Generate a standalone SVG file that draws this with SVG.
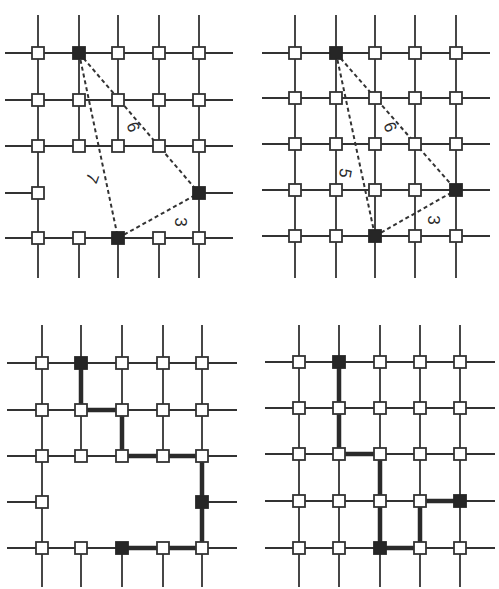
<svg xmlns="http://www.w3.org/2000/svg" width="499" height="589" viewBox="0 0 499 589">
<style>
.g{stroke:#333;stroke-width:1.8;fill:none;stroke-linecap:butt}
.d{stroke:#333;stroke-width:2;fill:none;stroke-dasharray:4 3}
.h{stroke:#2a2a2a;stroke-width:4.5;fill:none;stroke-linejoin:miter;stroke-linecap:square}
.n{fill:#fff;stroke:#333;stroke-width:1.8}
.b{fill:#262626;stroke:#262626;stroke-width:1.8}
.t{font-family:"Liberation Sans",Arial,sans-serif;font-size:17px;fill:#2a2a2a;text-anchor:middle;dominant-baseline:central}
</style>
<rect width="499" height="589" fill="#fff"/>
<g id="connectors">
<path class="g" d="M38 15V278M79 15V146M79 238V278M118 15V146M118 238V278M159 15V146M159 238V278M199 15V278"/>
<path class="g" d="M5 53H233M5 100H233M5 146H233M5 193H38M199 193H233M5 238H233"/>
<path class="d" d="M79 53L199 193M79 53L118 238M118 238L199 193"/>
<path class="g" d="M295 15V278M336 15V278M375 15V278M415 15V278M456 15V278"/>
<path class="g" d="M262 53H490M262 98H490M262 144H490M262 190H490M262 236H490"/>
<path class="d" d="M336 53L456 190M336 53L375 236M375 236L456 190"/>
<path class="g" d="M42 325V587M81 325V456M81 548V587M122 325V456M122 548V587M163 325V456M163 548V587M202 325V587"/>
<path class="g" d="M7 363H237M7 410H237M7 456H237M7 502H42M202 502H237M7 548H237"/>
<path class="h" d="M81 363V410H122V456H202V548H122"/>
<path class="g" d="M299 325V587M339 325V587M380 325V587M420 325V587M460 325V587"/>
<path class="g" d="M265 362H495M265 408H495M265 454H495M265 501H495M265 548H495"/>
<path class="h" d="M339 362V454H380V548H420V501H460"/>
</g>
<g id="labels">
<text class="t" transform="translate(133 127) rotate(70)">6</text>
<text class="t" transform="translate(92 178) rotate(110)">7</text>
<text class="t" transform="translate(180 222) rotate(90)">3</text>
<text class="t" transform="translate(390 127) rotate(70)">6</text>
<text class="t" transform="translate(345 173) rotate(100)">5</text>
<text class="t" transform="translate(433 220) rotate(90)">3</text>
</g>
<g id="a00"><rect class="n" x="32" y="47" width="12" height="12"/></g>
<g id="a01"><rect class="b" x="73" y="47" width="12" height="12"/></g>
<g id="a02"><rect class="n" x="112" y="47" width="12" height="12"/></g>
<g id="a03"><rect class="n" x="153" y="47" width="12" height="12"/></g>
<g id="a04"><rect class="n" x="193" y="47" width="12" height="12"/></g>
<g id="a10"><rect class="n" x="32" y="94" width="12" height="12"/></g>
<g id="a11"><rect class="n" x="73" y="94" width="12" height="12"/></g>
<g id="a12"><rect class="n" x="112" y="94" width="12" height="12"/></g>
<g id="a13"><rect class="n" x="153" y="94" width="12" height="12"/></g>
<g id="a14"><rect class="n" x="193" y="94" width="12" height="12"/></g>
<g id="a20"><rect class="n" x="32" y="140" width="12" height="12"/></g>
<g id="a21"><rect class="n" x="73" y="140" width="12" height="12"/></g>
<g id="a22"><rect class="n" x="112" y="140" width="12" height="12"/></g>
<g id="a23"><rect class="n" x="153" y="140" width="12" height="12"/></g>
<g id="a24"><rect class="n" x="193" y="140" width="12" height="12"/></g>
<g id="a30"><rect class="n" x="32" y="187" width="12" height="12"/></g>
<g id="a34"><rect class="b" x="193" y="187" width="12" height="12"/></g>
<g id="a40"><rect class="n" x="32" y="232" width="12" height="12"/></g>
<g id="a41"><rect class="n" x="73" y="232" width="12" height="12"/></g>
<g id="a42"><rect class="b" x="112" y="232" width="12" height="12"/></g>
<g id="a43"><rect class="n" x="153" y="232" width="12" height="12"/></g>
<g id="a44"><rect class="n" x="193" y="232" width="12" height="12"/></g>
<g id="b00"><rect class="n" x="289" y="47" width="12" height="12"/></g>
<g id="b01"><rect class="b" x="330" y="47" width="12" height="12"/></g>
<g id="b02"><rect class="n" x="369" y="47" width="12" height="12"/></g>
<g id="b03"><rect class="n" x="409" y="47" width="12" height="12"/></g>
<g id="b04"><rect class="n" x="450" y="47" width="12" height="12"/></g>
<g id="b10"><rect class="n" x="289" y="92" width="12" height="12"/></g>
<g id="b11"><rect class="n" x="330" y="92" width="12" height="12"/></g>
<g id="b12"><rect class="n" x="369" y="92" width="12" height="12"/></g>
<g id="b13"><rect class="n" x="409" y="92" width="12" height="12"/></g>
<g id="b14"><rect class="n" x="450" y="92" width="12" height="12"/></g>
<g id="b20"><rect class="n" x="289" y="138" width="12" height="12"/></g>
<g id="b21"><rect class="n" x="330" y="138" width="12" height="12"/></g>
<g id="b22"><rect class="n" x="369" y="138" width="12" height="12"/></g>
<g id="b23"><rect class="n" x="409" y="138" width="12" height="12"/></g>
<g id="b24"><rect class="n" x="450" y="138" width="12" height="12"/></g>
<g id="b30"><rect class="n" x="289" y="184" width="12" height="12"/></g>
<g id="b31"><rect class="n" x="330" y="184" width="12" height="12"/></g>
<g id="b32"><rect class="n" x="369" y="184" width="12" height="12"/></g>
<g id="b33"><rect class="n" x="409" y="184" width="12" height="12"/></g>
<g id="b34"><rect class="b" x="450" y="184" width="12" height="12"/></g>
<g id="b40"><rect class="n" x="289" y="230" width="12" height="12"/></g>
<g id="b41"><rect class="n" x="330" y="230" width="12" height="12"/></g>
<g id="b42"><rect class="b" x="369" y="230" width="12" height="12"/></g>
<g id="b43"><rect class="n" x="409" y="230" width="12" height="12"/></g>
<g id="b44"><rect class="n" x="450" y="230" width="12" height="12"/></g>
<g id="c00"><rect class="n" x="36" y="357" width="12" height="12"/></g>
<g id="c01"><rect class="b" x="75" y="357" width="12" height="12"/></g>
<g id="c02"><rect class="n" x="116" y="357" width="12" height="12"/></g>
<g id="c03"><rect class="n" x="157" y="357" width="12" height="12"/></g>
<g id="c04"><rect class="n" x="196" y="357" width="12" height="12"/></g>
<g id="c10"><rect class="n" x="36" y="404" width="12" height="12"/></g>
<g id="c11"><rect class="n" x="75" y="404" width="12" height="12"/></g>
<g id="c12"><rect class="n" x="116" y="404" width="12" height="12"/></g>
<g id="c13"><rect class="n" x="157" y="404" width="12" height="12"/></g>
<g id="c14"><rect class="n" x="196" y="404" width="12" height="12"/></g>
<g id="c20"><rect class="n" x="36" y="450" width="12" height="12"/></g>
<g id="c21"><rect class="n" x="75" y="450" width="12" height="12"/></g>
<g id="c22"><rect class="n" x="116" y="450" width="12" height="12"/></g>
<g id="c23"><rect class="n" x="157" y="450" width="12" height="12"/></g>
<g id="c24"><rect class="n" x="196" y="450" width="12" height="12"/></g>
<g id="c30"><rect class="n" x="36" y="496" width="12" height="12"/></g>
<g id="c34"><rect class="b" x="196" y="496" width="12" height="12"/></g>
<g id="c40"><rect class="n" x="36" y="542" width="12" height="12"/></g>
<g id="c41"><rect class="n" x="75" y="542" width="12" height="12"/></g>
<g id="c42"><rect class="b" x="116" y="542" width="12" height="12"/></g>
<g id="c43"><rect class="n" x="157" y="542" width="12" height="12"/></g>
<g id="c44"><rect class="n" x="196" y="542" width="12" height="12"/></g>
<g id="d00"><rect class="n" x="293" y="356" width="12" height="12"/></g>
<g id="d01"><rect class="b" x="333" y="356" width="12" height="12"/></g>
<g id="d02"><rect class="n" x="374" y="356" width="12" height="12"/></g>
<g id="d03"><rect class="n" x="414" y="356" width="12" height="12"/></g>
<g id="d04"><rect class="n" x="454" y="356" width="12" height="12"/></g>
<g id="d10"><rect class="n" x="293" y="402" width="12" height="12"/></g>
<g id="d11"><rect class="n" x="333" y="402" width="12" height="12"/></g>
<g id="d12"><rect class="n" x="374" y="402" width="12" height="12"/></g>
<g id="d13"><rect class="n" x="414" y="402" width="12" height="12"/></g>
<g id="d14"><rect class="n" x="454" y="402" width="12" height="12"/></g>
<g id="d20"><rect class="n" x="293" y="448" width="12" height="12"/></g>
<g id="d21"><rect class="n" x="333" y="448" width="12" height="12"/></g>
<g id="d22"><rect class="n" x="374" y="448" width="12" height="12"/></g>
<g id="d23"><rect class="n" x="414" y="448" width="12" height="12"/></g>
<g id="d24"><rect class="n" x="454" y="448" width="12" height="12"/></g>
<g id="d30"><rect class="n" x="293" y="495" width="12" height="12"/></g>
<g id="d31"><rect class="n" x="333" y="495" width="12" height="12"/></g>
<g id="d32"><rect class="n" x="374" y="495" width="12" height="12"/></g>
<g id="d33"><rect class="n" x="414" y="495" width="12" height="12"/></g>
<g id="d34"><rect class="b" x="454" y="495" width="12" height="12"/></g>
<g id="d40"><rect class="n" x="293" y="542" width="12" height="12"/></g>
<g id="d41"><rect class="n" x="333" y="542" width="12" height="12"/></g>
<g id="d42"><rect class="b" x="374" y="542" width="12" height="12"/></g>
<g id="d43"><rect class="n" x="414" y="542" width="12" height="12"/></g>
<g id="d44"><rect class="n" x="454" y="542" width="12" height="12"/></g>
</svg>
